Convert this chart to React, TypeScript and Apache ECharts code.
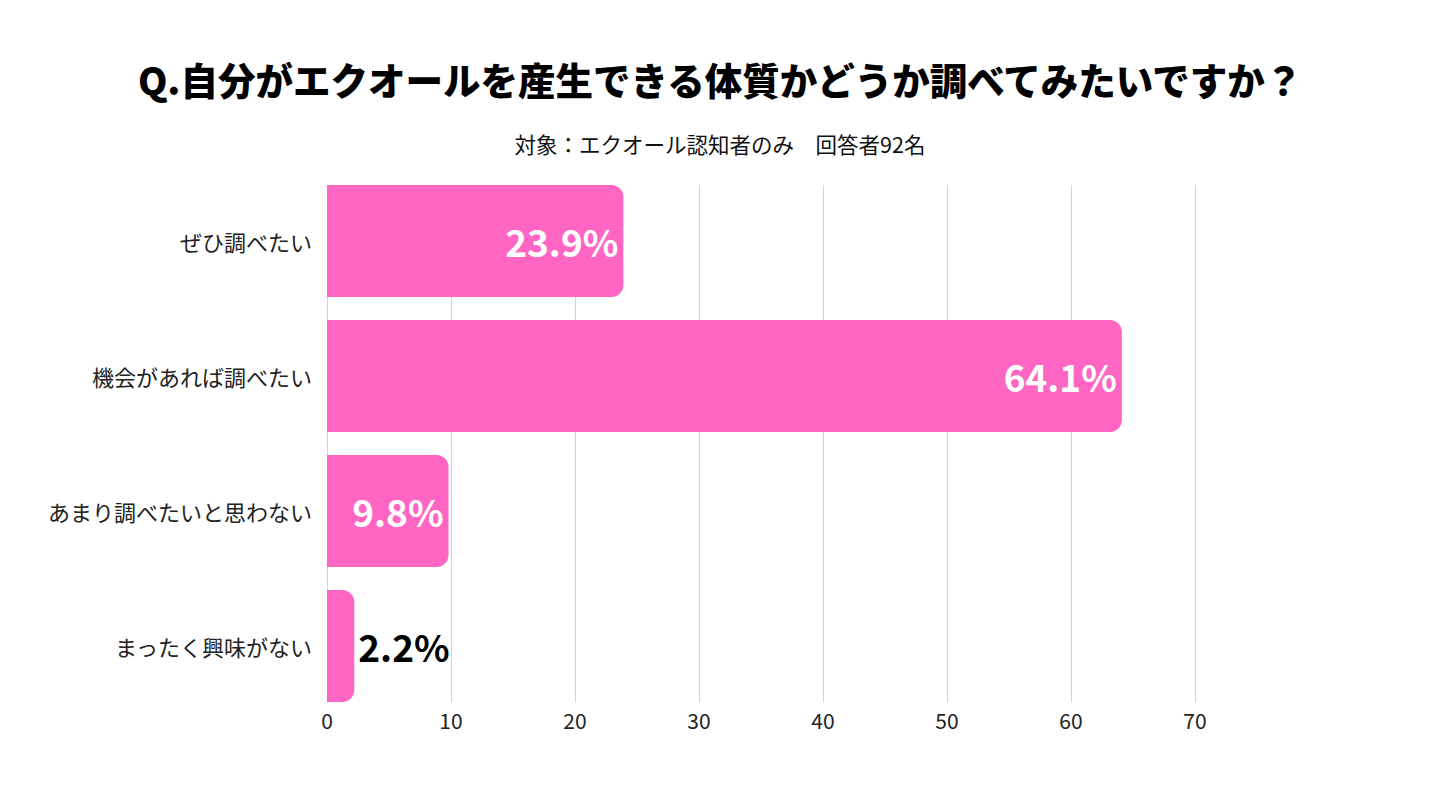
import React, { useEffect, useRef } from "react";
import * as echarts from "echarts";

const categories = ["ぜひ調べたい", "機会があれば調べたい", "あまり調べたいと思わない", "まったく興味がない"];
const values = [23.9, 64.1, 9.8, 2.2];
const titleText = "Q.自分がエクオールを産生できる体質かどうか調べてみたいですか？";
const subtitleText = "対象：エクオール認知者のみ　回答者92名";
const FONT = "'Noto Sans CJK JP', 'Noto Sans', sans-serif";
const PINK = "#FF66C4";

export default function App() {
  const ref = useRef<HTMLDivElement>(null);
  useEffect(() => {
    if (!ref.current) return;
    const chart = echarts.init(ref.current, null, { renderer: "svg" });
    chart.setOption({
      animation: false,
      backgroundColor: "#ffffff",
      textStyle: { fontFamily: FONT },
      title: [
        {
          text: titleText,
          left: "center",
          top: 55,
          textStyle: { fontFamily: FONT, fontSize: 37.5, fontWeight: 900, color: "#000" },
        },
        {
          text: subtitleText,
          left: "center",
          top: 128,
          textStyle: { fontFamily: FONT, fontSize: 21.5, fontWeight: "normal", color: "#111" },
        },
      ],
      grid: [
        { left: 327, right: 245, top: 173.5, height: 540 },
        { left: 327, right: 245, top: 185, height: 517 },
      ],
      xAxis: [
        {
          gridIndex: 0,
          type: "value",
          min: 0,
          max: 70,
          interval: 10,
          axisLabel: { show: false },
          axisLine: { show: false },
          axisTick: { show: false },
          splitLine: { show: false },
        },
        {
          gridIndex: 1,
          type: "value",
          min: 0,
          max: 70,
          interval: 10,
          axisLabel: { show: true, fontFamily: FONT, fontSize: 21, color: "#222", margin: 7 },
          axisLine: { show: false },
          axisTick: { show: false },
          splitLine: { show: true, lineStyle: { color: "#d4d4d4", width: 1 } },
        },
      ],
      yAxis: [
        {
          gridIndex: 0,
          type: "category",
          data: categories,
          inverse: true,
          axisLine: { show: false },
          axisTick: { show: false },
          axisLabel: { fontFamily: FONT, fontSize: 22, color: "#222", margin: 15 },
        },
        {
          gridIndex: 1,
          type: "category",
          data: categories,
          inverse: true,
          show: false,
        },
      ],
      series: [
        {
          type: "bar",
          xAxisIndex: 0,
          yAxisIndex: 0,
          barWidth: 112,
          z: 3,
          data: values.map((v, i) => ({
            value: v,
            label:
              i === 3
                ? { position: "right", color: "#000", distance: 4 }
                : { position: "insideRight", color: "#fff", distance: 5 },
          })),
          itemStyle: { color: PINK, borderRadius: [0, 12, 12, 0] },
          label: {
            show: true,
            fontFamily: FONT,
            fontSize: 37,
            fontWeight: "bold",
            formatter: (p: any) => p.value.toFixed(1) + "%",
          },
        },
      ],
    });
    return () => chart.dispose();
  }, []);
  return <div ref={ref} style={{ width: 1440, height: 800, margin: -8 }} />;
}
